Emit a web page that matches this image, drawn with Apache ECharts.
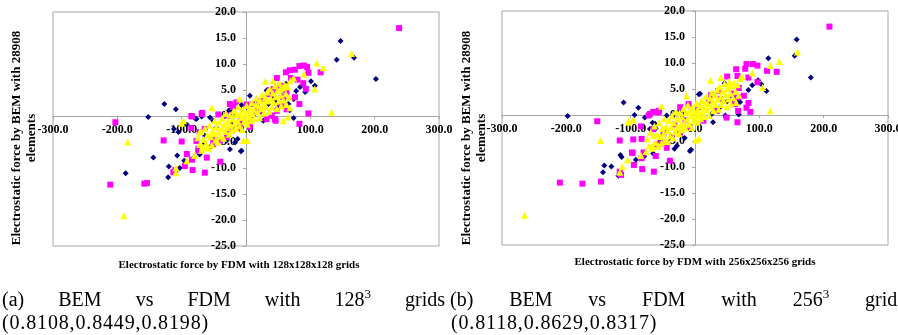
<!DOCTYPE html>
<html>
<head>
<meta charset="utf-8">
<script src="https://cdn.jsdelivr.net/npm/echarts@6/dist/echarts.min.js"></script>
<style>
  html, body { margin: 0; padding: 0; overflow: hidden; background: #fff; }
  #chart { width: 898px; height: 335px; }
  .cap { position: absolute; font-family: "Liberation Serif", serif; font-size: 20px; line-height: 23px; color: #000; }
  .just { text-align: justify; text-align-last: justify; }
  .cap sup { font-size: 13px; line-height: 0; vertical-align: 8px; }
</style>
</head>
<body>
<div id="chart"></div>
<div class="cap just" style="left:2px;top:288px;width:443px">(a) BEM vs FDM with 128<sup>3</sup> grids</div>
<div class="cap" style="left:2px;top:311px;letter-spacing:0.85px">(0.8108,0.8449,0.8198)</div>
<div class="cap just" style="left:450px;top:288px;width:455px">(b) BEM vs FDM with 256<sup>3</sup> grids</div>
<div class="cap" style="left:451px;top:311px;letter-spacing:0.85px">(0.8118,0.8629,0.8317)</div>
<script>
// axis ranges (tick labels come from these)
const xRange = [-300, 300, 100];
const yRange = [-25, 20, 5];

const titles = {
  y: 'Electrostatic force by BEM with 28908\nelements',
  xa: 'Electrostatic force by FDM with 128x128x128 grids',
  xb: 'Electrostatic force by FDM with 256x256x256 grids'
};

// (a) FDM 128^3 vs BEM, [fdm, bem]
const aDiamond = [
  [147,14.4],[141,10.8],[168,11.2],[202,7.1],[101,6.7],[107,5.8],[92,4.6],[84,5.6],[78,4.8],[74,3.2],
  [62,6.2],[66,2.3],[68,1.1],[74,-0.4],[43,-0.4],[6,3.9],[-7,2.1],[-25,1.1],[-127,2.3],[-109,1.3],
  [-152,-0.2],[-79,-0.5],[-69,-0.1],[-92,-1.7],[-112,-2.5],[-105,-3.1],[-51,-0.9],[-25,-6.4],[-8,-6.8],[-13,-4.4],
  [-72,-7.4],[-80,-7.9],[-107,-7.6],[-144,-8.0],[-187,-11.0],[-120,-9.7],[-121,-11.8],[-103,-10.0],[-96,-8.6],[-56,-6.0],
  [-64,-5.3],[27,-0.9],[50,1.7],[42,3.6],[32,4.9],[-27,1.0],[-22,-1.5],[-9,-0.9],[1,1.7],[11,0.1],
  [22,0.7],[35,2.3],[45,2.9],[55,3.9],[-56,-0.3],[-77,-0.6],[-64,-3.8],[-46,-2.2],[-30,-4.7],[-17,-5.1],[-7,-6.7]
];
const aSquare = [
  [238,16.9],[83,9.6],[90,9.7],[95,9.4],[76,8.9],[68,8.8],[62,8.4],[97,8.3],[116,8.4],[48,7.3],
  [70,7.3],[80,7.0],[89,6.3],[93,5.2],[76,3.6],[83,2.3],[97,0.5],[83,-1.5],[61,5.0],[37,5.0],
  [42,4.3],[17,2.5],[1,2.2],[-20,1.7],[-29,0.1],[-43,0.3],[-68,0.6],[-85,0.0],[-85,-2.3],[-72,-3.1],
  [-100,-4.9],[-128,-4.7],[-203,-1.2],[-77,-4.8],[-51,-5.4],[-74,-6.3],[-92,-7.3],[-84,-8.4],[-61,-8.0],[-40,-8.8],
  [-83,-10.4],[-64,-10.9],[-95,-9.6],[-113,-10.8],[-110,-10.4],[-154,-12.9],[-158,-13.0],[-211,-13.2],[6,-2.1],[46,-0.9],
  [40,0.1],[22,1.1],[-7,-0.9],[-20,-2.1],[-30,-3.4],[-40,-4.7],[-84,-0.1],[-69,0.4],[-64,-2.5],[-74,-6.7],
  [-25,2.3],[-15,2.6],[11,2.3],[24,2.9],[35,4.2],[43,5.2],[53,5.8],[58,3.6],[63,4.6],[55,2.3],
  [48,1.0],[45,-0.6],[32,-0.6],[17,1.0],[6,-1.2],[-9,-2.2],[-22,-2.8],[-30,-4.1],[-51,-4.4],[63,1.3]
];
const aTriangle = [
  [164,12.0],[110,10.2],[120,9.3],[107,5.2],[133,0.7],[90,8.1],[74,7.3],[63,5.7],[42,6.8],[30,6.7],
  [53,5.2],[-10,3.3],[-53,1.6],[-97,-0.9],[-100,-1.4],[-184,-5.0],[-190,-19.2],[-72,-3.1],[-92,-8.6],[-109,-10.9],
  [-109,-10.0],[-80,-7.6],[-69,-6.6],[-62,-6.0],[-4,-4.7],[2,-4.7],[32,3.0],[58,-0.9],[65,-0.2],[68,1.6],
  [-75,-4.2],[-72,-5.5],[-70,-3.0],[-68,-6.0],[-66,-4.5],[-64,-2.4],[-62,-5.2],[-60,-3.6],[-58,-6.2],[-57,-1.8],
  [-55,-4.0],[-53,-5.6],[-52,-2.8],[-50,-3.4],[-49,-0.9],[-47,-4.6],[-46,-2.0],[-44,-5.0],[-43,-3.1],[-41,-1.2],
  [-40,-3.9],[-38,-2.5],[-37,-0.4],[-35,-4.3],[-34,-1.7],[-32,-3.0],[-31,0.5],[-29,-2.2],[-28,-1.0],[-26,-3.5],
  [-25,0.2],[-24,-1.8],[-22,-2.8],[-21,-0.6],[-19,1.0],[-18,-1.5],[-16,-2.4],[-15,0.3],[-13,-0.9],[-12,1.8],
  [-10,-1.9],[-9,0.6],[-7,-0.3],[-6,-2.6],[-5,1.2],[-3,-1.1],[-2,0.4],[0,-0.6],[1,2.0],[2,-1.6],
  [3,0.9],[5,-0.2],[6,1.6],[8,-0.9],[9,2.6],[10,0.4],[12,1.2],[13,-0.5],[15,2.2],[16,3.4],
  [18,0.8],[19,1.9],[21,-0.3],[22,3.0],[24,1.4],[25,4.1],[27,2.4],[28,0.6],[30,3.6],[31,1.8],
  [33,4.6],[34,2.9],[36,0.9],[37,5.2],[39,3.3],[40,1.8],[42,4.4],[43,2.6],[45,5.8],[46,3.7],
  [48,1.4],[49,4.9],[51,2.9],[52,6.3],[54,4.0],[55,1.9],[57,5.4],[58,3.1],[60,6.0],[62,4.3],
  [63,2.2],[65,5.6],[67,3.6],[69,6.8]
];

// (b) FDM 256^3 vs BEM
const bDiamond = [
  [158,14.5],[155,11.4],[114,10.9],[180,7.2],[98,6.7],[103,5.9],[89,5.7],[111,4.6],[83,4.8],[67,3.4],
  [66,2.4],[68,0.1],[48,-0.4],[46,6.1],[6,4.0],[-111,2.4],[-88,1.4],[-94,0.0],[-198,-0.2],[-78,-0.5],
  [-66,-1.5],[-61,-2.6],[-32,-6.5],[-6,-6.7],[-16,-4.4],[-65,-7.4],[-79,-8.0],[-92,-8.6],[-116,-7.7],[-114,-8.1],
  [-141,-9.7],[-130,-9.9],[-143,-11.0],[-119,-11.7],[8,4.1],[-10,1.8],[-23,0.8],[-44,-0.1],[-62,-1.7],[-70,-2.7],
  [-54,-5.0],[-28,-5.9],[-8,-6.9],[13,-0.8],[26,0.2],[39,1.5],[49,2.5],[59,3.4],[70,2.5],[47,-0.1],[28,-1.4]
];
const bSquare = [
  [209,17.0],[80,9.8],[90,9.8],[97,9.5],[64,8.8],[78,8.9],[112,8.5],[127,8.3],[50,7.4],[66,7.5],
  [83,7.2],[97,6.3],[68,5.2],[76,3.7],[83,2.3],[86,0.6],[80,1.4],[66,-1.4],[-152,-1.2],[-65,0.6],
  [-56,0.8],[-72,-0.1],[-84,-2.2],[-83,-4.6],[-96,-4.7],[-117,-4.9],[-97,-7.3],[-83,-8.3],[-61,-7.9],[-39,-8.8],
  [-82,-10.4],[-95,-9.6],[-64,-10.9],[-117,-10.9],[-115,-11.5],[-146,-12.8],[-175,-13.2],[-210,-13.0],[-51,-5.5],[-70,0.2],
  [-57,0.5],[-65,-2.7],[-80,-7.2],[-98,-7.2],[-23,1.5],[-10,2.1],[21,2.5],[39,3.1],[59,4.1],[67,3.4],
  [62,2.1],[67,0.8],[49,-0.5],[34,0.8],[13,-1.1],[-8,-2.4],[-23,-3.4],[-36,-4.3],[-49,-3.4],[-44,-6.3],
  [-59,-5.6],[36,4.6],[25,3.8],[5,1.5],[-15,-1.0],[-32,-1.8]
];
const bTriangle = [
  [159,12.1],[131,10.3],[117,9.5],[105,5.3],[117,0.8],[89,8.1],[73,7.4],[24,6.7],[40,7.2],[55,5.9],
  [-13,3.7],[-52,1.7],[-96,-0.9],[-104,-1.4],[-147,-4.9],[-265,-19.3],[-113,-9.9],[-117,-11.0],[-105,-8.6],[-84,-7.8],
  [-76,-7.0],[-66,-6.0],[1,-4.8],[6,-4.6],[-103,-1.1],
  [-74,-4.6],[-71,-5.9],[-69,-3.3],[-67,-6.4],[-65,-4.0],[-63,-2.1],[-61,-5.3],[-59,-3.7],[-57,-6.0],[-56,-1.5],
  [-54,-4.2],[-52,-5.4],[-51,-2.6],[-49,-3.6],[-48,-0.7],[-46,-4.8],[-45,-2.2],[-43,-5.1],[-42,-3.0],[-40,-1.0],
  [-39,-4.0],[-37,-2.3],[-36,-0.2],[-34,-4.4],[-33,-1.5],[-31,-3.2],[-30,0.6],[-28,-2.4],[-27,-0.8],[-25,-3.6],
  [-24,0.4],[-23,-1.9],[-21,-2.9],[-20,-0.4],[-18,1.2],[-17,-1.6],[-15,-2.5],[-14,0.5],[-12,-0.8],[-11,1.9],
  [-9,-1.8],[-8,0.8],[-6,-0.1],[-5,-2.4],[-4,1.4],[-2,-1.0],[-1,0.6],[1,-0.4],[2,2.2],[3,-1.4],
  [4,1.0],[6,0.0],[7,1.8],[9,-0.7],[10,2.8],[11,0.6],[13,1.4],[14,-0.3],[16,2.4],[17,3.6],
  [19,1.0],[20,2.1],[22,-0.1],[23,3.2],[25,1.6],[26,4.3],[28,2.6],[29,0.8],[31,3.8],[32,2.0],
  [34,4.8],[35,3.1],[37,1.1],[38,5.4],[40,3.5],[41,2.0],[43,4.6],[44,2.8],[46,6.0],[47,3.9],
  [49,1.6],[50,5.1],[52,3.1],[53,6.5],[55,4.2],[56,2.1],[58,5.6],[59,3.3],[61,6.2],[63,4.5],
  [64,2.4],[66,5.8],[68,3.8],[70,7.0]
];

const AX = '#a6a6a6';
const FONT = '"Liberation Serif", "Times New Roman", serif';
const GRID_W = 386;
const GRID_H = 234;

// axes cross at zero: move them in from the grid edge by the distance to zero
const xAxisShift = GRID_H * (0 - yRange[0]) / (yRange[1] - yRange[0]);
const yAxisShift = GRID_W * (0 - xRange[0]) / (xRange[1] - xRange[0]);

function xAxis(i) {
  return {
    type: 'value', gridIndex: i,
    min: xRange[0], max: xRange[1], interval: xRange[2],
    offset: -xAxisShift,
    axisLine: { onZero: false, lineStyle: { color: AX } },
    axisTick: { show: true, length: 3, lineStyle: { color: AX } },
    axisLabel: {
      margin: 8, color: '#000', fontFamily: FONT, fontWeight: 'bold', fontSize: 12,
      showMinLabel: true, showMaxLabel: true,
      formatter: (v) => v.toFixed(1)
    },
    splitLine: { show: false }
  };
}

function yAxis(i) {
  return {
    type: 'value', gridIndex: i,
    min: yRange[0], max: yRange[1], interval: yRange[2],
    offset: -yAxisShift,
    axisLine: { onZero: false, lineStyle: { color: AX } },
    axisTick: { show: true, length: 3, lineStyle: { color: AX } },
    axisLabel: {
      margin: 10, color: '#000', fontFamily: FONT, fontWeight: 'bold', fontSize: 12,
      showMinLabel: true, showMaxLabel: true,
      formatter: (v) => v.toFixed(1)
    },
    splitLine: { show: false }
  };
}

function dots(i, data, symbol, size, color) {
  return {
    type: 'scatter', xAxisIndex: i, yAxisIndex: i,
    data, symbol, symbolSize: size,
    itemStyle: { color, opacity: 1 }
  };
}

function text(x, y, str, size, rotation) {
  return {
    type: 'text', x, y, rotation: rotation || 0,
    style: {
      text: str, fill: '#000', font: 'bold ' + size + 'px ' + FONT,
      textAlign: 'center', textVerticalAlign: 'middle', lineHeight: 15
    }
  };
}

const gridBase = { width: GRID_W, height: GRID_H, show: true, borderColor: AX, borderWidth: 1, containLabel: false, outerBoundsMode: 'none' };

const chart = echarts.init(document.getElementById('chart'));
chart.setOption({
  animation: false,
  grid: [
    Object.assign({ left: 53, top: 12 }, gridBase),
    Object.assign({ left: 502, top: 11 }, gridBase)
  ],
  xAxis: [xAxis(0), xAxis(1)],
  yAxis: [yAxis(0), yAxis(1)],
  series: [
    dots(0, aDiamond, 'diamond', 6, '#000080'),
    dots(0, aSquare, 'rect', 6, '#ff00ff'),
    dots(0, aTriangle, 'triangle', 7, '#ffff00'),
    dots(1, bDiamond, 'diamond', 6, '#000080'),
    dots(1, bSquare, 'rect', 6, '#ff00ff'),
    dots(1, bTriangle, 'triangle', 7, '#ffff00')
  ],
  graphic: [
    text(24, 138, titles.y, 13, Math.PI / 2),
    text(474, 138, titles.y, 13, Math.PI / 2),
    text(239, 265, titles.xa, 11),
    text(695, 262, titles.xb, 11)
  ]
});
</script>
</body>
</html>
